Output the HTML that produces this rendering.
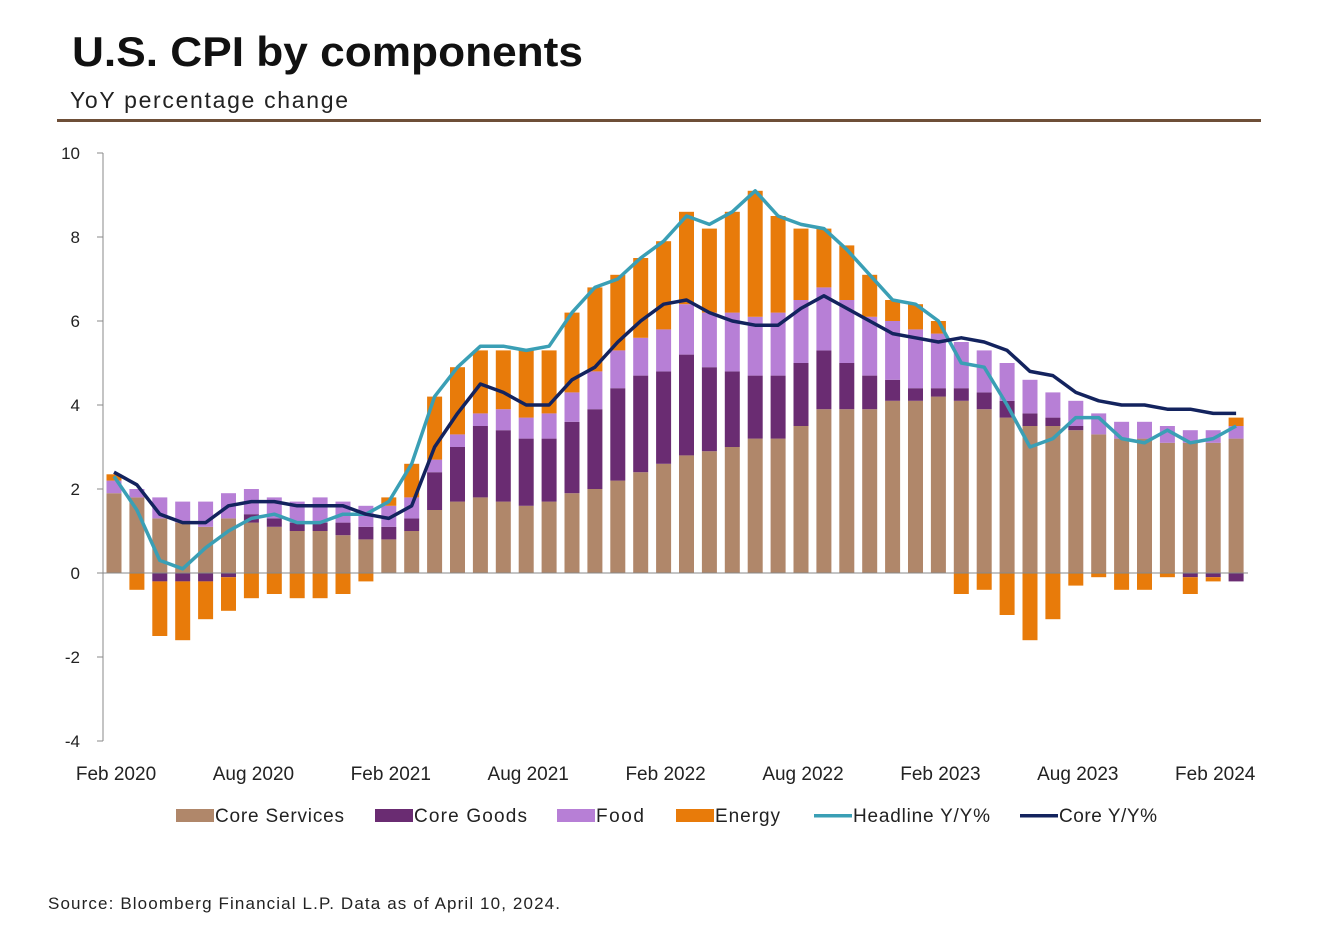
<!DOCTYPE html>
<html><head><meta charset="utf-8"><style>
body{margin:0;background:#fff;width:1332px;height:932px;overflow:hidden;font-family:"Liberation Sans",sans-serif}
</style></head><body>
<svg id="c" width="1332" height="932" xmlns="http://www.w3.org/2000/svg">
<text x="72" y="66" font-size="42" font-weight="bold" fill="#111" textLength="511" lengthAdjust="spacingAndGlyphs">U.S. CPI by components</text>
<text x="70" y="108" font-size="23" fill="#222" textLength="278" lengthAdjust="spacing">YoY percentage change</text>
<rect x="57" y="119" width="1204" height="3" fill="#6e4f38"/>
<g id="plot"></g>
<text x="48" y="909" font-size="17" fill="#222" textLength="512" lengthAdjust="spacing">Source: Bloomberg Financial L.P. Data as of April 10, 2024.</text>
</svg>
<script>
const months=["Feb 2020","Mar 2020","Apr 2020","May 2020","Jun 2020","Jul 2020","Aug 2020","Sep 2020","Oct 2020","Nov 2020","Dec 2020","Jan 2021","Feb 2021","Mar 2021","Apr 2021","May 2021","Jun 2021","Jul 2021","Aug 2021","Sep 2021","Oct 2021","Nov 2021","Dec 2021","Jan 2022","Feb 2022","Mar 2022","Apr 2022","May 2022","Jun 2022","Jul 2022","Aug 2022","Sep 2022","Oct 2022","Nov 2022","Dec 2022","Jan 2023","Feb 2023","Mar 2023","Apr 2023","May 2023","Jun 2023","Jul 2023","Aug 2023","Sep 2023","Oct 2023","Nov 2023","Dec 2023","Jan 2024","Feb 2024","Mar 2024"];
const coreServices=[1.9,1.8,1.3,1.2,1.1,1.3,1.2,1.1,1.0,1.0,0.9,0.8,0.8,1.0,1.5,1.7,1.8,1.7,1.6,1.7,1.9,2.0,2.2,2.4,2.6,2.8,2.9,3.0,3.2,3.2,3.5,3.9,3.9,3.9,4.1,4.1,4.2,4.1,3.9,3.7,3.5,3.5,3.4,3.3,3.2,3.2,3.1,3.1,3.1,3.2];
const coreGoods=[0,0,-0.2,-0.2,-0.2,-0.1,0.2,0.2,0.2,0.2,0.3,0.3,0.3,0.3,0.9,1.3,1.7,1.7,1.6,1.5,1.7,1.9,2.2,2.3,2.2,2.4,2.0,1.8,1.5,1.5,1.5,1.4,1.1,0.8,0.5,0.3,0.2,0.3,0.4,0.4,0.3,0.2,0.1,0,0,0,0,-0.1,-0.1,-0.2];
const food=[0.3,0.2,0.5,0.5,0.6,0.6,0.6,0.5,0.5,0.6,0.5,0.5,0.5,0.5,0.3,0.3,0.3,0.5,0.5,0.6,0.7,0.9,0.9,0.9,1.0,1.2,1.3,1.4,1.4,1.5,1.5,1.5,1.5,1.4,1.4,1.4,1.3,1.1,1.0,0.9,0.8,0.6,0.6,0.5,0.4,0.4,0.4,0.3,0.3,0.3];
const energy=[0.15,-0.4,-1.3,-1.4,-0.9,-0.8,-0.6,-0.5,-0.6,-0.6,-0.5,-0.2,0.2,0.8,1.5,1.6,1.5,1.4,1.6,1.5,1.9,2.0,1.8,1.9,2.1,2.2,2.0,2.4,3.0,2.3,1.7,1.4,1.3,1.0,0.5,0.6,0.3,-0.5,-0.4,-1.0,-1.6,-1.1,-0.3,-0.1,-0.4,-0.4,-0.1,-0.4,-0.1,0.2];
const headline=[2.3,1.5,0.3,0.1,0.6,1.0,1.3,1.4,1.2,1.2,1.4,1.4,1.7,2.6,4.2,4.9,5.4,5.4,5.3,5.4,6.2,6.8,7.0,7.5,7.9,8.5,8.3,8.6,9.1,8.5,8.3,8.2,7.7,7.1,6.5,6.4,6.0,5.0,4.9,4.0,3.0,3.2,3.7,3.7,3.2,3.1,3.4,3.1,3.2,3.5];
const core=[2.4,2.1,1.4,1.2,1.2,1.6,1.7,1.7,1.6,1.6,1.6,1.4,1.3,1.6,3.0,3.8,4.5,4.3,4.0,4.0,4.6,4.9,5.5,6.0,6.4,6.5,6.2,6.0,5.9,5.9,6.3,6.6,6.3,6.0,5.7,5.6,5.5,5.6,5.5,5.3,4.8,4.7,4.3,4.1,4.0,4.0,3.9,3.9,3.8,3.8];
const yTicks=[10,8,6,4,2,0,-2,-4];
const xLabels=["Feb 2020","Aug 2020","Feb 2021","Aug 2021","Feb 2022","Aug 2022","Feb 2023","Aug 2023","Feb 2024"];

const NS="http://www.w3.org/2000/svg";
const g=document.getElementById('plot');
const x0=114,step=22.9,bw=15;
const X=i=>x0+i*step;
const Y=v=>573-42*v;
function el(t,a){const e=document.createElementNS(NS,t);for(const k in a)e.setAttribute(k,a[k]);g.appendChild(e);return e;}
let ax=el('line',{x1:103,y1:Y(10),x2:103,y2:Y(-4),stroke:'#888','stroke-width':1});


yTicks.forEach(v=>{
 let t=el('line',{x1:97,x2:103,y1:Y(v),y2:Y(v),stroke:'#888'});
 
 
 let l=el('text',{x:80,y:Y(v)+6,'font-size':17,'text-anchor':'end',fill:'#222'});
 l.textContent=v;
 
 
});
const series=[["core-services",coreServices,"#b0876a"],["core-goods",coreGoods,"#6a2c72"],["food",food,"#b77fd6"],["energy",energy,"#e87b0a"]];
months.forEach((m,i)=>{
 let pos=0,neg=0;
 series.forEach(([n,arr,c])=>{
  const v=arr[i];if(!v)return;
  let y1,y2;
  if(v>0){y1=Y(pos+v);y2=Y(pos);pos+=v;}else{y1=Y(neg);y2=Y(neg+v);neg+=v;}
  let r=el('rect',{x:X(i)-bw/2,y:y1,width:bw,height:y2-y1,fill:c});
  
  
 });
});
let zl=el('line',{x1:103,x2:1248,y1:Y(0),y2:Y(0),stroke:'#888'});


function line(arr,c,w,n){
 let p=el('polyline',{points:arr.map((v,i)=>X(i)+','+Y(v)).join(' '),fill:'none',stroke:c,'stroke-width':w,'stroke-linejoin':'round'});
 
 
}
line(headline,'#3a9fb5',3.5,'headline-line');
line(core,'#13235e',3.5,'core-line');
xLabels.forEach(lb=>{
 const i=months.indexOf(lb);
 let t=el('text',{x:X(i)+2,y:780,'font-size':19,'text-anchor':'middle',fill:'#222'});
 t.textContent=lb;
 
 
});
const legend=[["Core Services","#b0876a",176,"r",129],["Core Goods","#6a2c72",375,"r",113],["Food","#b77fd6",557,"r",48],["Energy","#e87b0a",676,"r",65],["Headline Y/Y%","#3a9fb5",814,"l",137],["Core Y/Y%","#13235e",1020,"l",98]];
legend.forEach(([lb,c,x,k,w])=>{
 let s=k=="r"?el('rect',{x:x,y:809,width:38,height:13,fill:c}):el('rect',{x:x,y:814,width:38,height:3.5,fill:c});
 
 
 let t=el('text',{x:x+39,y:822,'font-size':19,fill:'#222',textLength:w,lengthAdjust:'spacing'});
 t.textContent=lb;
 
 
});
</script>
</body></html>
